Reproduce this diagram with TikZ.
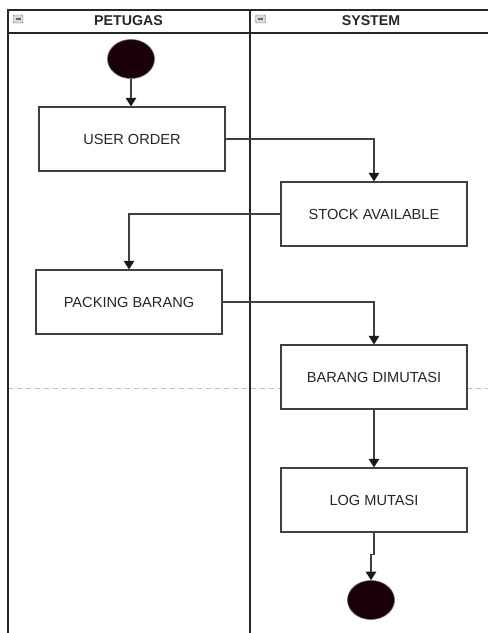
\documentclass[tikz,border=0pt]{standalone}
\usepackage{fontspec}
\setmainfont{Liberation Sans}
\usetikzlibrary{shapes.geometric, arrows.meta, positioning}
\definecolor{startfill}{RGB}{26,0,8}

\begin{document}
\begin{tikzpicture}[
  x=1pt, y=-1pt,
  lane/.style={draw=black!85, line width=1.6pt},
  act/.style={draw=black!75, fill=white, line width=1.2pt, minimum width=186pt,
              minimum height=64pt, inner sep=0pt, text=black!85,
              font=\fontsize{14.6}{17}\selectfont},
  dot/.style={ellipse, fill=startfill, draw=black!60, line width=0.6pt,
              minimum width=47pt, minimum height=39pt, inner sep=0pt},
  arr/.style={-{Triangle[length=8.5pt, width=10.5pt, color=black!90]}, line width=1.2pt, draw=black!75},
  title/.style={font=\bfseries\fontsize{14.2}{17}\selectfont, text=black!85},
  fold/.style={draw=black!55, fill=black!15, rounded corners=1pt,
               minimum width=10pt, minimum height=8pt, inner sep=0pt}]
\useasboundingbox (0,0) rectangle (488,633);
% swimlanes
\draw[black!25, line width=0.8pt, dash pattern=on 5pt off 4pt] (8,388) -- (488,388);
\draw[lane] (488,10) -- (8,10) -- (8,633);
\draw[lane] (8,33) -- (488,33);
\draw[lane] (250,10) -- (250,633);
\node[fold] (fold1) at (18,19) {};
\node[fold] (fold2) at (260.5,19) {};
\draw[black!60, line width=1.2pt] ([xshift=2.5pt]fold1.center) -- ([xshift=-2.5pt]fold1.center);
\draw[black!60, line width=1.2pt] ([xshift=2.5pt]fold2.center) -- ([xshift=-2.5pt]fold2.center);
\node[title] (petugas) at (128.5,21) {PETUGAS};
\node[title] (system) at (371,21) {SYSTEM};
% activities
\node[dot] (start) at (131,59) {};
\node[act] (order) at (132,139) {USER ORDER};
\node[act] (stock) at (374,214) {STOCK AVAILABLE};
\node[act] (pack) at (129,302) {PACKING BARANG};
\node[act] (mutasi) at (374,377) {BARANG DIMUTASI};
\node[act] (log) at (374,500) {LOG MUTASI};
\node[dot] (end) at (371,600) {};
% flows
\draw[arr] (start) -- (start |- order.north);
\draw[arr] (order.east) -| (stock.north);
\draw[arr] (stock.west) -| (pack.north);
\draw[arr] (pack.east) -| (mutasi.north);
\draw[arr] (mutasi) -- (log);
\draw[arr] (log.south) -- ++(0,22) -| (end);
\end{tikzpicture}
\end{document}
